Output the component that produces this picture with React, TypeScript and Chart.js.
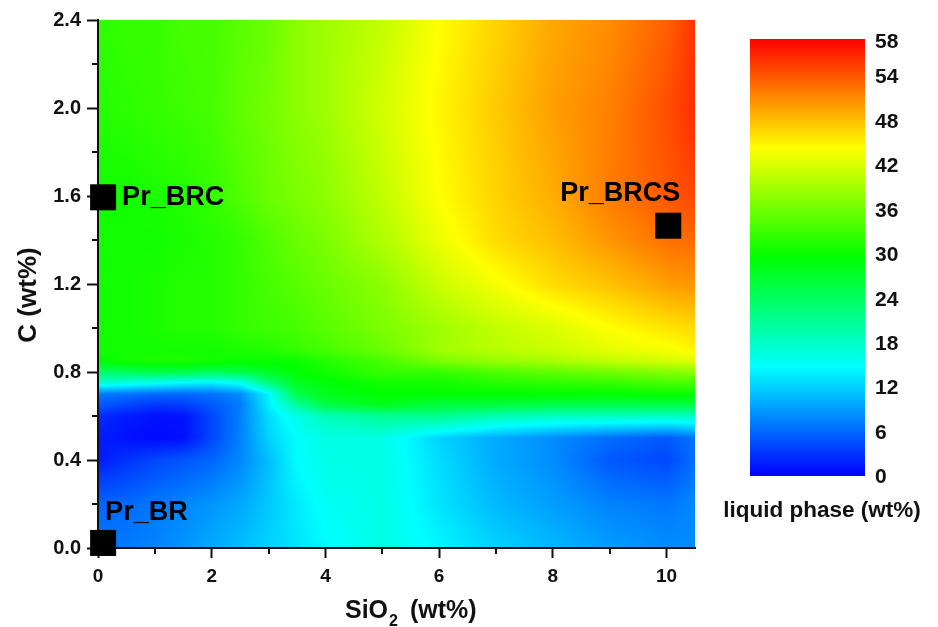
import React, { useEffect, useRef } from "react";
import { Chart, registerables } from "chart.js";

Chart.register(...registerables);

const FONT = "'Liberation Sans', Arial, sans-serif";

const gridX = [0, 0.5, 1, 1.5, 2, 2.5, 3, 3.5, 4, 5, 6, 7, 8, 9, 10, 10.5];
const gridY = [0, 0.2, 0.4, 0.5, 0.6, 0.65, 0.7, 0.75, 0.8, 0.85, 0.9, 1.0, 1.2, 1.4, 1.6, 2.0, 2.4];
const liquidPhase = [
  [6.8, 7, 7.5, 8.5, 9.7, 10.8, 12, 13, 14.2, 16, 14, 12, 10.5, 9, 8, 8],
  [5.7, 6, 6.8, 7.6, 8.5, 9.5, 11.4, 13.4, 15, 16, 13, 10.5, 9, 7.4, 6.8, 7.7],
  [1.5, 2.8, 4, 4.8, 5.7, 7.7, 10.8, 14.5, 16, 16, 12.5, 9.7, 8, 5, 4, 6.3],
  [1.5, 1, 0.5, 0.8, 4, 7.3, 12, 14.5, 16, 16, 12, 9.7, 8, 6.2, 5, 6.5],
  [2.5, 1.5, 1, 1, 4, 7.3, 12.5, 16, 18.5, 20.5, 21, 19, 18, 18, 18, 18],
  [5, 4, 3, 3.5, 5, 7, 13.5, 20, 25, 27.5, 25.5, 25.5, 25, 25, 25, 25],
  [7, 6.5, 6, 6, 6.5, 8, 14, 25, 27.5, 29, 29, 29, 29, 29, 29.5, 29.5],
  [17, 16, 15, 14, 13.5, 15, 22, 27, 28.5, 30, 30, 31, 31.5, 32, 33, 33],
  [23, 24, 25, 25, 24, 25, 27, 29, 30, 32, 32, 33.5, 34.5, 35.5, 36.5, 37],
  [29, 30, 30.5, 30.5, 30, 29.5, 29.5, 29.5, 31, 33, 36, 37.5, 38.5, 40, 41, 41.5],
  [30, 30, 30, 30, 30, 30.5, 31, 32, 33, 35, 38, 39.5, 40.5, 42, 43, 44],
  [30, 30, 30.5, 31, 31, 32, 32.5, 33, 34, 36, 38, 40, 41.5, 43.5, 45, 45.5],
  [30, 30, 30.5, 31, 31, 32, 33, 34, 35, 37, 40.5, 43, 45.5, 47, 49, 49.5],
  [30, 30, 30, 30.5, 31, 32, 33.5, 35, 36, 39, 42.5, 45.5, 47.2, 49.5, 51.6, 52],
  [30, 30, 30.5, 31, 32, 33.5, 35, 36, 37, 40, 43.5, 46, 48.2, 51, 53, 54],
  [31, 31.5, 32, 32.5, 33, 34.5, 35.5, 37, 38, 41, 44, 46.5, 49, 50.7, 53.5, 55.5],
  [31.5, 32, 32, 33, 33, 34, 35, 37, 38, 40, 43.5, 46, 48.5, 50, 52.5, 55],
];

const sampleNames = ["Pr_BR", "Pr_BRC", "Pr_BRCS"];
const sampleX = [0.09, 0.09, 10.03];
const sampleY = [0.023, 1.594, 1.465];
const sampleLabelOffsets = [
  [2, -30, "left"],
  [19, 0, "left"],
  [12, -32, "right"],
];

const colorStops = ["#0000ff", "#00ffff", "#00ff00", "#ffff00", "#ff0000"];
const stopRgb = [[0, 0, 255], [0, 255, 255], [0, 255, 0], [255, 255, 0], [255, 0, 0]];
const colorMax = 58;
const colorbarLabels = ["0", "6", "12", "18", "24", "30", "36", "42", "48", "54", "58"];
const colorbarTickAt = [-0.2, 5.8, 11.8, 17.8, 23.8, 29.8, 35.8, 41.8, 47.8, 53.8, 58.6];

function bracket(arr: number[], v: number): [number, number] {
  let i = 0;
  while (i < arr.length - 2 && v > arr[i + 1]) i++;
  const t = (v - arr[i]) / (arr[i + 1] - arr[i]);
  return [i, Math.max(0, Math.min(1, t))];
}

function sample(x: number, y: number) {
  const [i, tx] = bracket(gridX, x);
  const [j, ty] = bracket(gridY, y);
  const a = liquidPhase[j][i] * (1 - tx) + liquidPhase[j][i + 1] * tx;
  const b = liquidPhase[j + 1][i] * (1 - tx) + liquidPhase[j + 1][i + 1] * tx;
  return a * (1 - ty) + b * ty;
}

function rgbFor(v: number) {
  const t = Math.max(0, Math.min(0.99999, v / colorMax)) * 4;
  const k = Math.floor(t);
  const f = t - k;
  return [0, 1, 2].map((c) => stopRgb[k][c] * (1 - f) + stopRgb[k + 1][c] * f);
}

const heatmapPlugin = {
  id: "heatmap",
  beforeDraw(chart: any) {
    const { ctx, chartArea: a, scales } = chart;
    const w = Math.round(a.right - a.left);
    const h = Math.round(a.bottom - a.top);
    const img = ctx.createImageData(w, h);
    for (let py = 0; py < h; py++) {
      const yv = scales.y.getValueForPixel(a.top + py + 0.5);
      for (let px = 0; px < w; px++) {
        const xv = scales.x.getValueForPixel(a.left + px + 0.5);
        const [r, g, b] = rgbFor(sample(xv, yv));
        const o = (py * w + px) * 4;
        img.data[o] = r;
        img.data[o + 1] = g;
        img.data[o + 2] = b;
        img.data[o + 3] = 255;
      }
    }
    ctx.putImageData(img, Math.round(a.left), Math.round(a.top));
  },
  afterDraw(chart: any) {
    const { ctx, scales } = chart;
    ctx.save();
    ctx.strokeStyle = "#111";
    ctx.lineWidth = 2;
    ctx.beginPath();
    scales.x.ticks.forEach((t: any, i: number) => {
      if (i % 2 === 1) {
        const p = Math.round(scales.x.getPixelForValue(t.value));
        ctx.moveTo(p, scales.x.top);
        ctx.lineTo(p, scales.x.top + 6);
      }
    });
    scales.y.ticks.forEach((t: any, i: number) => {
      if (i % 2 === 1) {
        const p = Math.round(scales.y.getPixelForValue(t.value));
        ctx.moveTo(scales.y.right, p);
        ctx.lineTo(scales.y.right - 6, p);
      }
    });
    ctx.stroke();
    ctx.fillStyle = "#000";
    ctx.font = `bold 27px ${FONT}`;
    ctx.textBaseline = "middle";
    sampleNames.forEach((name, i) => {
      const [dx, dy, align] = sampleLabelOffsets[i] as [number, number, CanvasTextAlign];
      ctx.textAlign = align;
      ctx.fillText(name, scales.x.getPixelForValue(sampleX[i]) + dx, scales.y.getPixelForValue(sampleY[i]) + dy);
    });

    // axis titles
    ctx.fillStyle = "#111";
    ctx.textBaseline = "alphabetic";
    ctx.textAlign = "left";
    ctx.font = `bold 25px ${FONT}`;
    ctx.fillText("SiO", 345, 618);
    ctx.fillText("(wt%)", 410, 618);
    ctx.font = `bold 16px ${FONT}`;
    ctx.fillText("2", 389, 626);

    ctx.translate(36, 295);
    ctx.rotate(-Math.PI / 2);
    ctx.textAlign = "center";
    ctx.font = `bold 26px ${FONT}`;
    ctx.fillText("C (wt%)", 0, 0);
    ctx.restore();
  },
};

const colorbarTitlePlugin = {
  id: "colorbarTitle",
  afterDraw(chart: any) {
    const { ctx } = chart;
    ctx.save();
    ctx.fillStyle = "#111";
    ctx.font = `bold 22.5px ${FONT}`;
    ctx.textAlign = "center";
    ctx.textBaseline = "middle";
    ctx.fillText("liquid phase (wt%)", 822, 511);
    ctx.restore();
  },
};

export default function App() {
  const mainRef = useRef<HTMLCanvasElement>(null);
  const barRef = useRef<HTMLCanvasElement>(null);

  useEffect(() => {
    const main = new Chart(mainRef.current!, {
      type: "scatter",
      data: {
        datasets: [
          {
            label: "samples",
            data: sampleX.map((x, i) => ({ x, y: sampleY[i] })),
            pointStyle: "rect",
            pointRadius: 18.4,
            pointHoverRadius: 18.4,
            backgroundColor: "#000",
            borderWidth: 0,
            clip: false,
          },
        ],
      },
      options: {
        animation: false,
        responsive: false,
        events: [],
        layout: { padding: { left: 0, top: 20, right: 243, bottom: 0 } },
        plugins: { legend: { display: false }, tooltip: { enabled: false } },
        scales: {
          x: {
            type: "linear",
            min: 0,
            max: 10.5,
            afterFit(s: any) { s.height = 79; },
            border: { display: true, color: "#111", width: 2 },
            grid: {
              drawOnChartArea: false,
              tickLength: 10,
              tickWidth: 2,
              tickColor: (c: any) => (c.index % 2 === 0 ? "#111" : "transparent"),
            },
            ticks: {
              stepSize: 1,
              includeBounds: false,
              autoSkip: false,
              maxRotation: 0,
              padding: 7,
              color: "#111",
              font: { family: FONT, size: 19, weight: "bold" },
              callback: (v: any, i: number) => (i % 2 === 0 ? String(v) : ""),
            },
          },
          y: {
            type: "linear",
            min: 0,
            max: 2.4,
            afterFit(s: any) { s.width = 98; },
            border: { display: true, color: "#111", width: 2 },
            grid: {
              drawOnChartArea: false,
              tickLength: 11,
              tickWidth: 2,
              tickColor: (c: any) => (c.index % 2 === 0 ? "#111" : "transparent"),
            },
            ticks: {
              stepSize: 0.2,
              autoSkip: false,
              padding: 6,
              color: "#111",
              font: { family: FONT, size: 20, weight: "bold" },
              callback: (v: any, i: number) => (i % 2 === 0 ? Number(v).toFixed(1) : ""),
            },
          },
        },
      },
      plugins: [heatmapPlugin],
    } as any);

    const bar = new Chart(barRef.current!, {
      type: "bar",
      data: {
        labels: ["liquid phase (wt%)"],
        datasets: [
          {
            data: [[0, 59]],
            barPercentage: 1,
            categoryPercentage: 1,
            borderWidth: 0,
            backgroundColor: (c: any) => {
              const a = c.chart.chartArea;
              if (!a) return "#00ff00";
              const g = c.chart.ctx.createLinearGradient(0, a.bottom, 0, a.top);
              colorStops.forEach((col, i) => g.addColorStop(i / (colorStops.length - 1), col));
              return g;
            },
          },
        ],
      },
      options: {
        animation: false,
        responsive: false,
        events: [],
        layout: { padding: { left: 750, top: 39, right: 0, bottom: 151 } },
        plugins: { legend: { display: false }, tooltip: { enabled: false } },
        scales: {
          x: { display: false },
          y: {
            position: "right",
            type: "linear",
            min: 0,
            max: 59,
            afterFit(s: any) { s.width = 73; },
            afterBuildTicks(s: any) { s.ticks = colorbarTickAt.map((value) => ({ value })); },
            border: { display: false },
            grid: { display: false, drawTicks: false },
            ticks: {
              autoSkip: false,
              padding: 10,
              color: "#111",
              font: { family: FONT, size: 21, weight: "bold" },
              callback: (_v: any, i: number) => colorbarLabels[i],
            },
          },
        },
      },
      plugins: [colorbarTitlePlugin],
    } as any);

    return () => {
      main.destroy();
      bar.destroy();
    };
  }, []);

  const style: React.CSSProperties = { position: "absolute", left: 0, top: 0 };
  return (
    <div style={{ position: "fixed", left: 0, top: 0, width: 938, height: 627, background: "#fff" }}>
      <canvas ref={mainRef} width={938} height={627} style={style} />
      <canvas ref={barRef} width={938} height={627} style={style} />
    </div>
  );
}
